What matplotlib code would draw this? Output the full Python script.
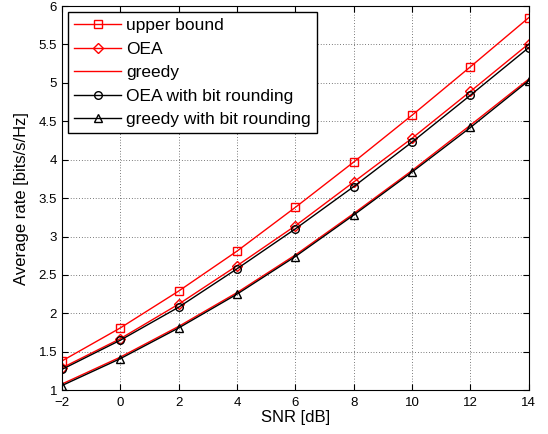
import matplotlib
matplotlib.use("Agg")
import matplotlib.pyplot as plt

plt.rcParams['font.family'] = ['Liberation Sans', 'DejaVu Sans']

snr = [-2, 0, 2, 4, 6, 8, 10, 12, 14]
upper_bound = [1.38, 1.81, 2.29, 2.81, 3.38, 3.97, 4.58, 5.21, 5.85]
oea = [1.29, 1.67, 2.12, 2.62, 3.14, 3.71, 4.28, 4.89, 5.51]
greedy = [1.08, 1.43, 1.83, 2.27, 2.76, 3.30, 3.86, 4.45, 5.05]
oea_round = [1.27, 1.65, 2.08, 2.58, 3.10, 3.65, 4.23, 4.84, 5.46]
greedy_round = [1.06, 1.41, 1.81, 2.25, 2.74, 3.28, 3.84, 4.42, 5.03]

fig = plt.figure(figsize=(5.48, 4.34), dpi=100)
ax = fig.add_axes([0.113, 0.101, 0.852, 0.885])

ax.plot(snr, upper_bound, color='red', marker='s', mfc='none', ms=5.5, mew=1, lw=1, label='upper bound')
ax.plot(snr, oea, color='red', marker='D', mfc='none', ms=5.6, mew=1, lw=1, label='OEA')
ax.plot(snr, greedy, color='red', lw=1, label='greedy')
ax.plot(snr, oea_round, color='black', marker='o', mfc='none', ms=5.5, mew=1, lw=1, label='OEA with bit rounding')
ax.plot(snr, greedy_round, color='black', marker='^', mfc='none', ms=5.5, mew=1, lw=1, label='greedy with bit rounding')

ax.set_xlim(-2, 14)
ax.set_ylim(1, 6)
ax.set_xticks(range(-2, 15, 2))
ax.set_xticklabels(['\u22122'] + [str(v) for v in range(0, 15, 2)])
ax.set_yticks([1, 1.5, 2, 2.5, 3, 3.5, 4, 4.5, 5, 5.5, 6])
ax.set_yticklabels(['1', '1.5', '2', '2.5', '3', '3.5', '4', '4.5', '5', '5.5', '6'])
ax.tick_params(direction='in', top=True, right=True, labelsize=9.5, length=4)
ax.tick_params(axis='x', pad=5)
ax.grid(True, linestyle=(0, (1, 3)), color='black', lw=0.5)
ax.set_xlabel('SNR [dB]', fontsize=12, labelpad=1)
ax.set_ylabel('Average rate [bits/s/Hz]', fontsize=12, labelpad=7)

leg = ax.legend(loc='upper left', fontsize=12.5, fancybox=False, framealpha=1,
                edgecolor='black', borderaxespad=0.35, handlelength=2.7,
                handletextpad=0.3, labelspacing=0.48, borderpad=0.35)
leg.get_frame().set_linewidth(1)

fig.savefig('out.png', dpi=100)
